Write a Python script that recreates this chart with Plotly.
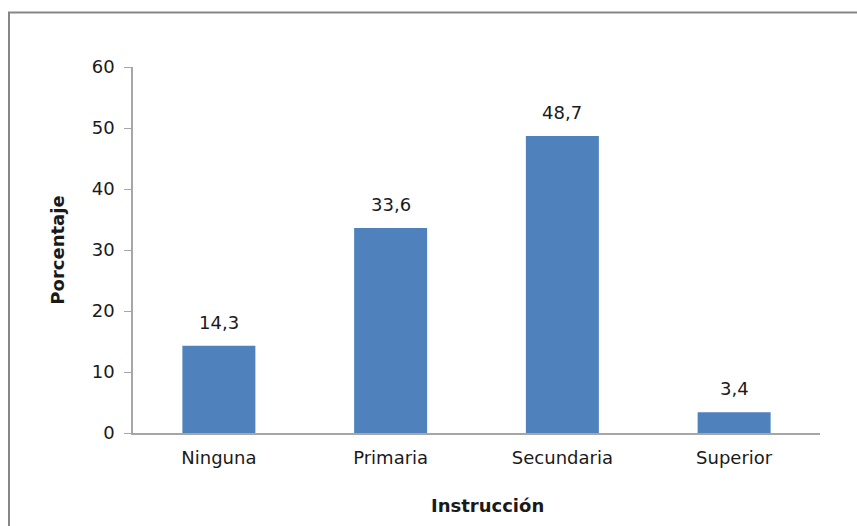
import plotly.graph_objects as go

# Nivel de instrucción (%)
categorias = ["Ninguna", "Primaria", "Secundaria", "Superior"]
porcentajes = [14.3, 33.6, 48.7, 3.4]
y_ticks = [0, 10, 20, 30, 40, 50, 60]

W, H = 857, 526
L, R, T, B = 133, 37, 67, 93
pw, ph = W - L - R, H - T - B

FONT = "DejaVu Sans, Arial"
TXT = "#1a1a1a"
AXIS = "#A6A6A6"


def px_x(x):
    return (x - L) / pw


def px_y(y):
    return (H - B - y) / ph


fig = go.Figure(
    go.Bar(
        x=categorias,
        y=porcentajes,
        marker=dict(color="#4F81BD", line=dict(width=0)),
        width=0.425,
        hoverinfo="x+y",
    )
)

# value labels above each bar
for cat, val in zip(categorias, porcentajes):
    fig.add_annotation(
        x=cat,
        y=val,
        text=f"{val:.1f}".replace(".", ","),
        showarrow=False,
        yanchor="bottom",
        yshift=11,
        font=dict(family=FONT, size=18, color=TXT),
    )

# x-axis title
fig.add_annotation(
    xref="paper",
    yref="paper",
    x=px_x(487),
    y=px_y(505),
    text="<b>Instrucción</b>",
    showarrow=False,
    xanchor="center",
    yanchor="middle",
    font=dict(family=FONT, size=18, color=TXT),
)

fig.update_layout(
    width=W,
    height=H,
    margin=dict(l=L, r=R, t=T, b=B),
    paper_bgcolor="white",
    plot_bgcolor="white",
    showlegend=False,
    font=dict(family=FONT, size=18, color=TXT),
    xaxis=dict(
        showline=True,
        linecolor=AXIS,
        linewidth=1.5,
        ticks="",
        showgrid=False,
        tickfont=dict(size=18),
        ticklabelstandoff=8,
    ),
    yaxis=dict(
        range=[0, 60],
        tickvals=y_ticks,
        showline=True,
        linecolor=AXIS,
        linewidth=1.5,
        ticks="outside",
        ticklen=7,
        tickcolor=AXIS,
        showgrid=False,
        zeroline=False,
        tickfont=dict(size=18),
        ticklabelstandoff=6,
        title=dict(text="<b>Porcentaje</b>", font=dict(size=18), standoff=22),
    ),
    shapes=[
        dict(
            type="rect",
            xref="paper",
            yref="paper",
            x0=px_x(9),
            x1=px_x(870),
            y0=px_y(540),
            y1=px_y(12.5),
            line=dict(color="#868686", width=2),
            fillcolor="rgba(0,0,0,0)",
            layer="below",
        )
    ],
)

fig.write_html("out.html")
